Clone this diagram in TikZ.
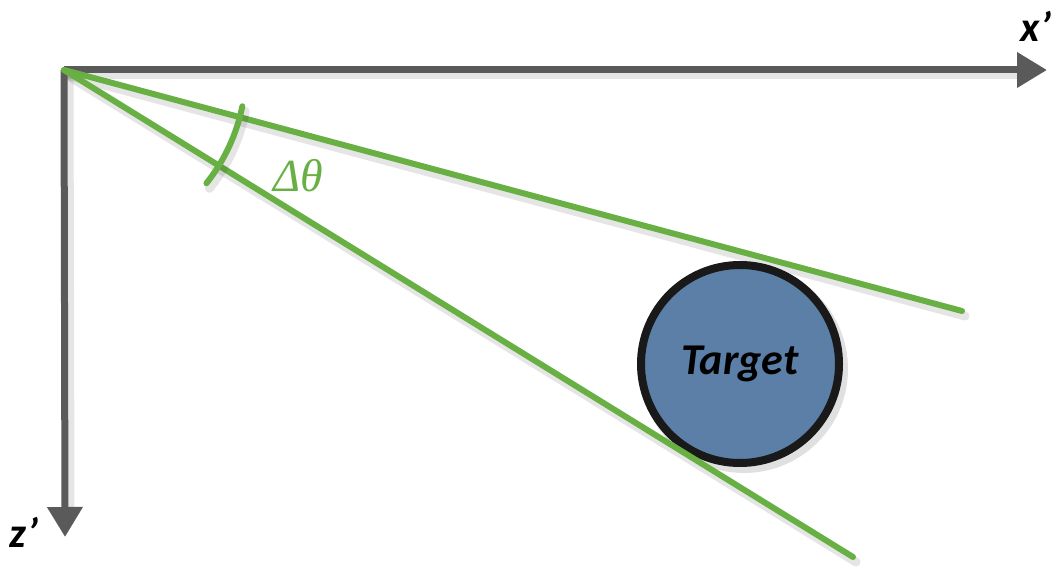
\documentclass[tikz,border=0pt]{standalone}
\usepackage{fontspec}
\newfontfamily\calib{Carlito}
\newfontfamily\timesf{Liberation Serif}
\usetikzlibrary{arrows.meta}
\definecolor{axisgray}{HTML}{5A5A5A}
\definecolor{beamgreen}{HTML}{68B044}
\definecolor{targetblue}{HTML}{5B7FA7}
\tikzset{
  axisline/.style={axisgray, line width=7pt, -{Triangle[length=30pt,width=34pt]}},
  beam/.style={beamgreen, line width=6pt, line cap=round},
  shadowline/.style={black, opacity=0.10, line width=9pt, line cap=round},
  axislabel/.style={font=\calib\bfseries\itshape\fontsize{42}{44}\selectfont, text=black, inner sep=0pt},
  targetnode/.style={circle, draw=black!90, line width=8pt, fill=targetblue, minimum size=198pt, inner sep=0pt, font=\calib\bfseries\itshape\fontsize{44}{46}\selectfont}
}
\begin{document}
\begin{tikzpicture}[x=1pt,y=-1pt]
\useasboundingbox (0,0) rectangle (1054,569);
\coordinate (o) at (64,70);
\coordinate (xend) at (1047,70);
\coordinate (zend) at (65,537);
\coordinate (b1) at (962,311);
\coordinate (b2) at (853,557);
% shadows
\draw[shadowline] ([shift={(3,5)}]o) -- ([shift={(-25,5)}]xend);
\draw[shadowline] ([shift={(5,3)}]o) -- ([shift={(5,-30)}]zend);
\draw[shadowline] ([shift={(3,5)}]o) -- ([shift={(3,5)}]b1);
\draw[shadowline] ([shift={(3,5)}]o) -- ([shift={(3,5)}]b2);
% axes
\draw[axisline] (o) -- (xend);
\draw[axisline] (o) -- (zend);
% target
\fill[black, opacity=0.12] (744,369) circle (104pt);
\node[targetnode] (target) at (740,364) {Target};
% beams
\draw[beam] (o) -- (b1);
\draw[beam] (o) -- (b2);
\draw[black, opacity=0.10, line width=9pt, line cap=round] ([shift={(11.5:182)}]o) ++(3,5) arc[start angle=11.5, end angle=38.5, radius=182];
\draw[beam] ([shift={(11.5:182)}]o) arc[start angle=11.5, end angle=38.5, radius=182];
% labels
\node[text=beamgreen, font=\timesf\itshape\fontsize{46}{48}\selectfont, inner sep=0pt] (dt) at (298,176) {Δθ};
\node[axislabel] (xl) at (1036,26) {x’};
\node[axislabel] (zl) at (24,532) {z’};
\end{tikzpicture}
\end{document}
